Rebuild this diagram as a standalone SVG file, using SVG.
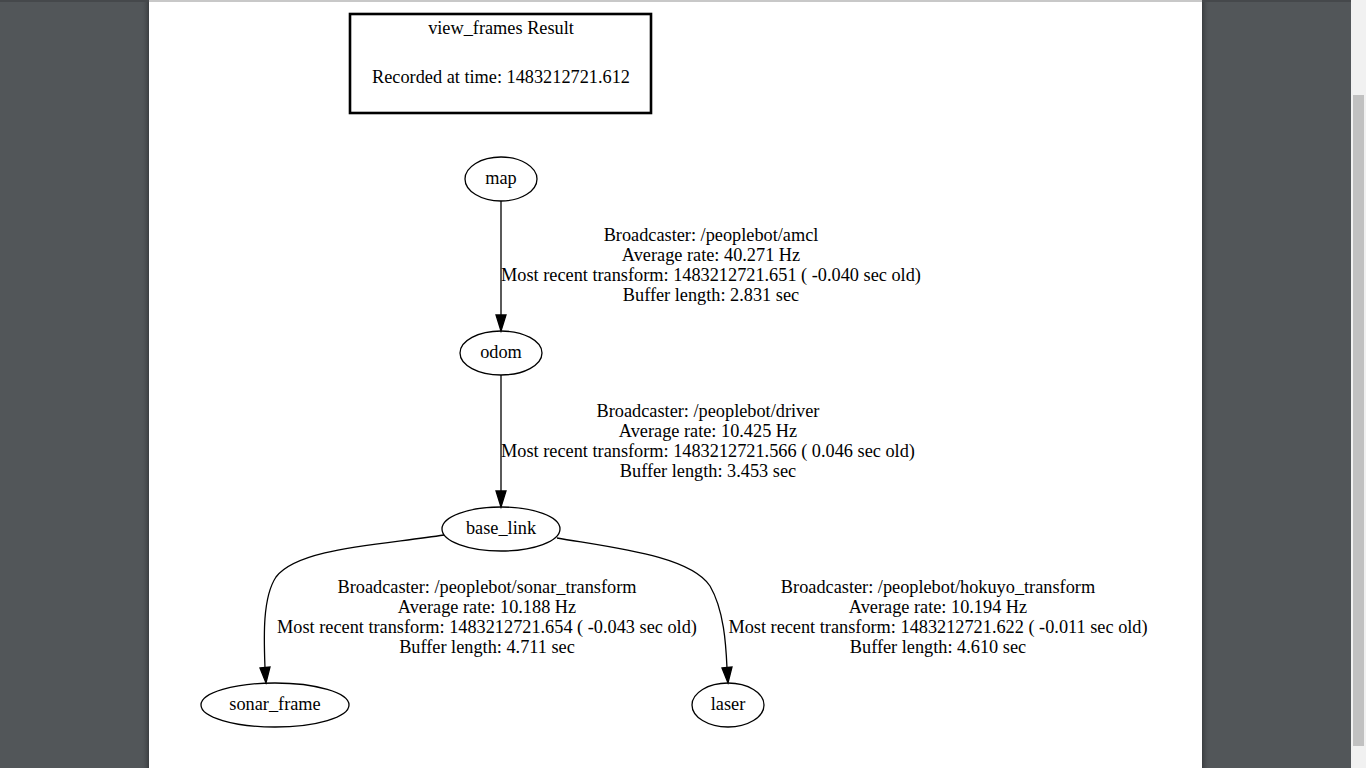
<svg xmlns="http://www.w3.org/2000/svg" width="1366" height="768" viewBox="0 0 1366 768">
<defs>
<style>
text{font-family:"Liberation Serif","Times New Roman",serif;font-size:18.3px;fill:#000;text-anchor:middle}
.node ellipse{fill:none;stroke:#000;stroke-width:1.3}
.edge path{fill:none;stroke:#000;stroke-width:1.3}
.edge polygon{fill:#000;stroke:#000;stroke-width:1.3}
</style>
<linearGradient id="shL" x1="0" x2="1" y1="0" y2="0">
<stop offset="0" stop-color="#525659" stop-opacity="0"/>
<stop offset="1" stop-color="#3a3d40" stop-opacity="1"/>
</linearGradient>
<linearGradient id="shR" x1="0" x2="1" y1="0" y2="0">
<stop offset="0" stop-color="#3a3d40" stop-opacity="1"/>
<stop offset="1" stop-color="#525659" stop-opacity="0"/>
</linearGradient>
</defs>
<rect x="0" y="0" width="1366" height="768" fill="#525659"/>
<rect x="141" y="0" width="8" height="768" fill="url(#shL)"/>
<rect x="1202" y="0" width="8" height="768" fill="url(#shR)"/>
<rect x="0" y="0" width="1351" height="2" fill="#45484b"/>
<rect x="149" y="0" width="1053" height="768" fill="#ffffff"/>
<rect x="149" y="0" width="1053" height="2" fill="#c8c8c8"/>
<rect x="1351" y="0" width="15" height="768" fill="#f1f1f1"/>
<rect x="1353" y="95" width="11" height="651" fill="#c1c1c1"/>

<g id="title">
<rect x="350" y="14" width="301" height="99" fill="none" stroke="#000" stroke-width="2.6"/>
<text x="501" y="33.5">view_frames Result</text>
<text x="501" y="82.5">Recorded at time: 1483212721.612</text>
</g>

<g id="edges" class="edge">
<g id="e-map-odom">
<path d="M501,201 L501,315"/>
<polygon points="496,315 506,315 501,331"/>
<text x="711" y="241">Broadcaster: /peoplebot/amcl</text>
<text x="711" y="261">Average rate: 40.271 Hz</text>
<text x="711" y="281">Most recent transform: 1483212721.651 ( -0.040 sec old)</text>
<text x="711" y="301">Buffer length: 2.831 sec</text>
</g>
<g id="e-odom-base">
<path d="M501,375 L501,491"/>
<polygon points="496,491 506,491 501,507"/>
<text x="708" y="417">Broadcaster: /peoplebot/driver</text>
<text x="708" y="437">Average rate: 10.425 Hz</text>
<text x="708" y="457">Most recent transform: 1483212721.566 ( 0.046 sec old)</text>
<text x="708" y="477">Buffer length: 3.453 sec</text>
</g>
<g id="e-base-sonar">
<path d="M444,535 C380,545 298,548 276,577 C262,598 264,640 265,668"/>
<polygon points="260,668 270,667 266,683"/>
<text x="487" y="593">Broadcaster: /peoplebot/sonar_transform</text>
<text x="487" y="613">Average rate: 10.188 Hz</text>
<text x="487" y="633">Most recent transform: 1483212721.654 ( -0.043 sec old)</text>
<text x="487" y="653">Buffer length: 4.711 sec</text>
</g>
<g id="e-base-laser">
<path d="M557,538 C615,548 690,556 710,586 C724,610 726,645 727,668"/>
<polygon points="722,668 732,667 728,683"/>
<text x="938" y="593">Broadcaster: /peoplebot/hokuyo_transform</text>
<text x="938" y="613">Average rate: 10.194 Hz</text>
<text x="938" y="633">Most recent transform: 1483212721.622 ( -0.011 sec old)</text>
<text x="938" y="653">Buffer length: 4.610 sec</text>
</g>
</g>

<g id="map" class="node"><ellipse cx="501" cy="179" rx="36" ry="22"/><text x="501" y="184">map</text></g>
<g id="odom" class="node"><ellipse cx="501" cy="353" rx="41" ry="22"/><text x="501" y="358">odom</text></g>
<g id="base_link" class="node"><ellipse cx="501" cy="529" rx="59" ry="22"/><text x="501" y="534">base_link</text></g>
<g id="sonar_frame" class="node"><ellipse cx="275" cy="705" rx="74" ry="22"/><text x="275" y="710">sonar_frame</text></g>
<g id="laser" class="node"><ellipse cx="728" cy="705" rx="36" ry="22"/><text x="728" y="710">laser</text></g>
</svg>
